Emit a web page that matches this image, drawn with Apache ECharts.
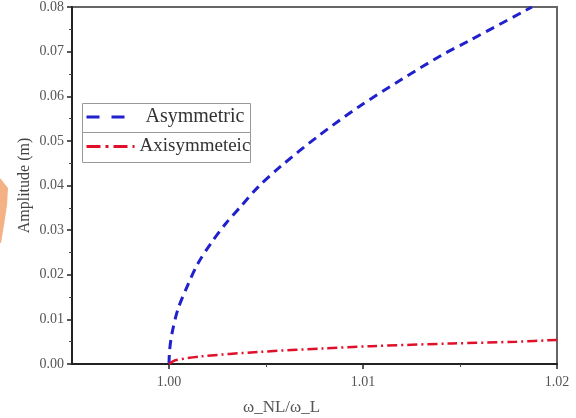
<!DOCTYPE html>
<html>
<head>
<meta charset="utf-8">
<script src="https://cdn.jsdelivr.net/npm/echarts@6/dist/echarts.min.js"></script>
<style>html,body{margin:0;padding:0;background:#fff}#c{width:576px;height:418px}</style>
</head>
<body>
<div id="c"></div>
<script>
const xLabelValues = [1.00, 1.01, 1.02];
const xMinorValues = [1.005, 1.015];
const yTickValues = [0, 0.01, 0.02, 0.03, 0.04, 0.05, 0.06, 0.07, 0.08];

const asymX = [1.0, 1.00003, 1.00015, 1.00047, 1.00098, 1.0015, 1.00217, 1.00295, 1.00372, 1.0046, 1.00579, 1.0077, 1.00977, 1.012, 1.01406, 1.01545, 1.01871];
const asymY = [0, 0.0030, 0.0068, 0.0124, 0.0178, 0.0226, 0.0271, 0.0316, 0.0354, 0.0397, 0.0444, 0.0511, 0.0576, 0.0638, 0.0692, 0.0724, 0.0800];

const axiX = [1.0, 1.0003, 1.00165, 1.0046, 1.008, 1.0104, 1.0146, 1.0179, 1.02];
const axiY = [0, 0.0008, 0.0017, 0.0027, 0.0035, 0.0040, 0.0046, 0.0050, 0.0054];

const seriesNames = ['Asymmetric', 'Axisymmeteic'];

const pair = (xs, ys) => xs.map((x, i) => [x, ys[i]]);
const serif = 'Liberation Serif';

const chart = echarts.init(document.getElementById('c'), null, {renderer: 'canvas'});
chart.setOption({
  animation: false,
  backgroundColor: '#fff',
  grid: {left: 72, right: 19, top: 7, bottom: 54, show: true, borderColor: '#666', borderWidth: 2, backgroundColor: 'transparent'},
  xAxis: [{
    type: 'value', min: 0.995, max: 1.02, position: 'bottom',
    axisLine: {show: true, onZero: false, lineStyle: {color: '#222', width: 2}},
    axisTick: {show: true, customValues: xLabelValues, length: 5, lineStyle: {color: '#222', width: 1.5}},
    axisLabel: {customValues: xLabelValues, formatter: v => v.toFixed(2), fontFamily: serif, fontSize: 14, color: '#555', margin: 11},
    splitLine: {show: false}
  }, {
    type: 'value', min: 0.995, max: 1.02, position: 'bottom', gridIndex: 0,
    axisLine: {show: false},
    axisTick: {show: true, customValues: xMinorValues, length: 3, lineStyle: {color: '#444', width: 1}},
    axisLabel: {show: false},
    splitLine: {show: false}
  }],
  yAxis: {
    type: 'value', min: 0, max: 0.08, interval: 0.01,
    axisLine: {show: true, onZero: false, lineStyle: {color: '#222', width: 2}},
    axisTick: {show: true, length: 5, lineStyle: {color: '#222', width: 1.5}},
    minorTick: {show: true, splitNumber: 2, length: 3, lineStyle: {color: '#444', width: 1}},
    axisLabel: {formatter: v => v.toFixed(2), fontFamily: serif, fontSize: 14, color: '#555', margin: 8},
    splitLine: {show: false},
    name: 'Amplitude (m)', nameLocation: 'middle', nameGap: 39, nameMoveOverlap: false,
    nameTextStyle: {fontFamily: serif, fontSize: 16, color: '#444'}
  },
  legend: [{
    data: [seriesNames[0]], left: 83, top: 104, padding: [3, 4, 3, 2],
    itemWidth: 44, itemHeight: 14, itemStyle: {opacity: 0},
    lineStyle: {type: [13, 12], width: 3},
    textStyle: {fontFamily: serif, fontSize: 20, color: '#333', padding: [0, 0, 0, 10]}
  }, {
    data: [seriesNames[1]], left: 83, top: 134, padding: [3, 4, 3, 2],
    itemWidth: 48, itemHeight: 14, itemStyle: {opacity: 0},
    lineStyle: {type: [14, 5, 3, 5], width: 3},
    textStyle: {fontFamily: serif, fontSize: 19, color: '#333'}
  }],
  graphic: [
    {type: 'rect', shape: {x: 82.5, y: 103.5, width: 168, height: 29}, style: {fill: 'none', stroke: '#999', lineWidth: 1}, z: 10},
    {type: 'rect', shape: {x: 82.5, y: 132.5, width: 168, height: 30}, style: {fill: 'none', stroke: '#999', lineWidth: 1}, z: 10},
    {type: 'text', left: 243, top: 399, style: {text: 'ω_NL/ω_L', fontFamily: serif, fontSize: 17, fill: '#555'}},
    {type: 'polygon', shape: {points: [[0, 178], [8, 188], [7, 205], [4, 225], [1, 243], [0, 243]]}, style: {fill: '#f4b183'}}
  ],
  series: [{
    name: seriesNames[0], type: 'line', showSymbol: false, symbol: 'none', smooth: 0.3,
    xAxisIndex: 0, data: pair(asymX, asymY),
    lineStyle: {color: '#2020cc', width: 3, type: [9, 6]},
    itemStyle: {color: '#2020cc'}, z: 3
  }, {
    name: seriesNames[1], type: 'line', showSymbol: false, symbol: 'none', smooth: 0.3,
    xAxisIndex: 0, data: pair(axiX, axiY),
    lineStyle: {color: '#e0102a', width: 2.5, type: [10, 4, 2, 4]},
    itemStyle: {color: '#e0102a'}, z: 3
  }]
});
</script>
</body>
</html>
